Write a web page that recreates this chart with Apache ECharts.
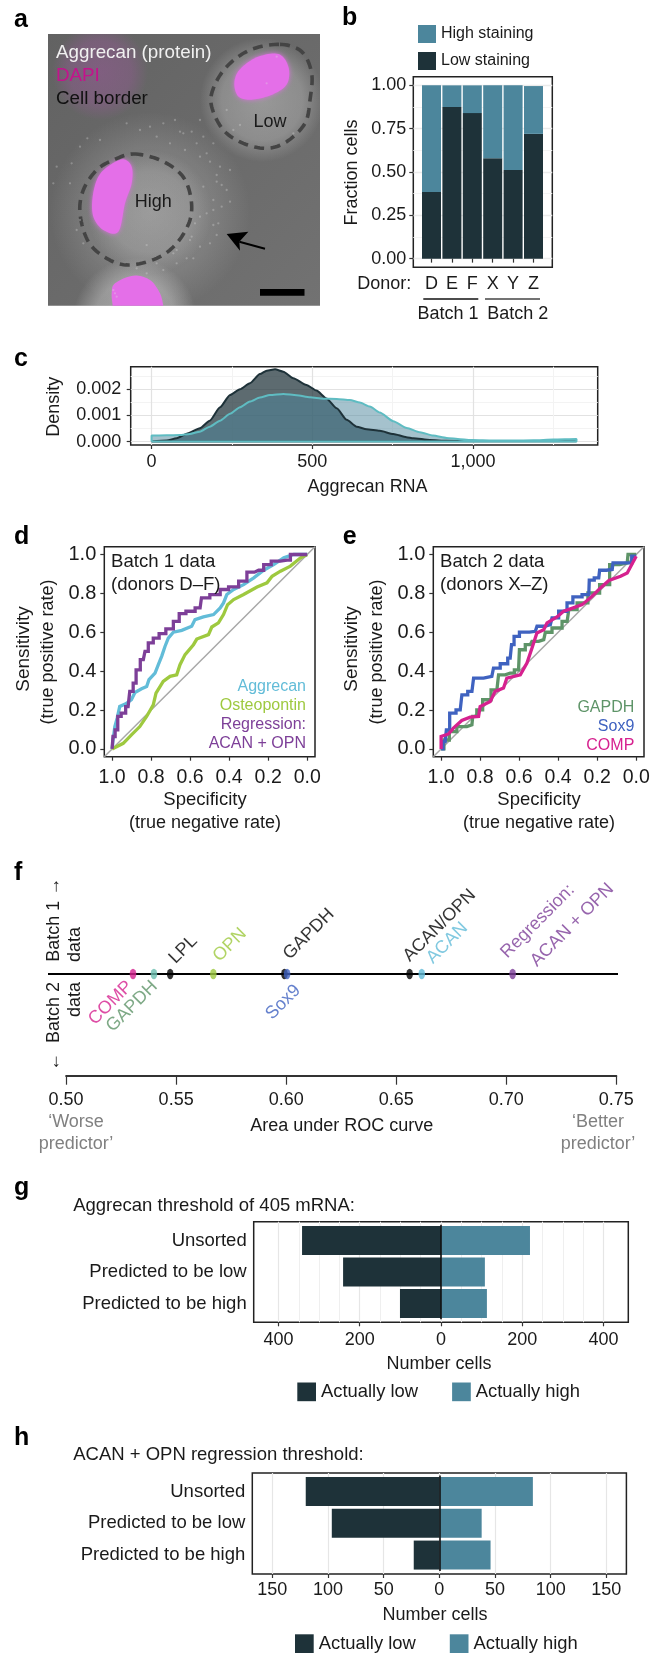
<!DOCTYPE html>
<html><head><meta charset="utf-8">
<style>html,body{margin:0;padding:0;background:#fff}#c{width:656px;height:1653px}</style>
<script src="https://cdn.jsdelivr.net/npm/echarts@6/dist/echarts.min.js"></script></head>
<body><div id="c"></div>
<script>
// ---------- data ----------
const donors=['D','E','F','X','Y','Z'];
const lowStaining=[0.385,0.875,0.84,0.58,0.512,0.72];
const highStaining=[0.615,0.125,0.16,0.42,0.488,0.276];
const darkDensity=[[0,0],[47,.04],[78,.13],[114,.32],[150,.51],[181,.80],[213,1.31],[244,1.78],[275,2.0],[306,2.23],[337,2.58],[358,2.71],[384,2.76],[410,2.67],[441,2.42],[482,2.16],[513,1.95],[544,1.65],[576,1.27],[607,.83],[638,.57],[669,.47],[710,.41],[752,.29],[793,.17],[814,.13],[866,.06],[918,.03],[1000,.02],[1125,.01],[1322,.01],[1322,0],[0,0]];
const tealDensity=[[0,0],[0,.23],[47,.24],[88,.25],[119,.29],[150,.38],[181,.57],[213,.80],[244,1.06],[275,1.31],[306,1.53],[337,1.68],[368,1.78],[410,1.82],[451,1.77],[493,1.69],[534,1.64],[576,1.63],[617,1.59],[648,1.49],[679,1.34],[710,1.11],[752,.78],[794,.52],[835,.36],[876,.23],[918,.14],[960,.09],[999,.06],[1062,.04],[1125,.04],[1188,.05],[1250,.08],[1322,.10],[1322,0],[0,0]];
const rocAggrecan=[[1,0],[.995,.046],[.986,.115],[.974,.158],[.961,.218],[.93,.232],[.901,.253],[.883,.29],[.849,.309],[.823,.321],[.811,.356],[.78,.39],[.763,.433],[.746,.476],[.729,.527],[.712,.57],[.686,.6],[.643,.61],[.592,.631],[.575,.665],[.532,.679],[.48,.691],[.446,.725],[.429,.751],[.412,.794],[.377,.82],[.326,.845],[.274,.88],[.223,.919],[.172,.948],[.12,.983],[.069,1],[0,1]];
const rocOsteopontin=[[1,0],[.943,.029],[.901,.072],[.858,.115],[.823,.167],[.789,.227],[.775,.287],[.738,.347],[.703,.373],[.669,.381],[.652,.433],[.626,.485],[.583,.536],[.566,.565],[.506,.588],[.489,.627],[.455,.648],[.429,.691],[.408,.742],[.377,.768],[.326,.794],[.257,.833],[.206,.854],[.18,.888],[.137,.914],[.086,.94],[.034,.983],[0,1]];
const rocRegression=[[1,0],[.991,.064],[.978,.098],[.964,.167],[.943,.184],[.918,.218],[.901,.296],[.883,.338],[.871,.407],[.84,.459],[.823,.502],[.806,.545],[.772,.57],[.746,.593],[.703,.617],[.669,.656],[.643,.696],[.6,.708],[.549,.725],[.535,.777],[.463,.794],[.429,.82],[.377,.833],[.326,.863],[.292,.909],[.249,.919],[.197,.948],[.172,.966],[.103,.971],[.069,1],[0,1]];
const rocSox9=[[1,0],[.979,.038],[.967,.098],[.945,.184],[.902,.201],[.885,.278],[.842,.296],[.825,.364],[.74,.373],[.723,.416],[.671,.438],[.646,.467],[.632,.536],[.62,.579],[.577,.601],[.517,.605],[.5,.631],[.44,.639],[.423,.674],[.372,.708],[.337,.751],[.312,.782],[.243,.794],[.238,.868],[.192,.88],[.183,.919],[.123,.923],[.115,.957],[.046,.957],[0,.991]];
const rocGapdh=[[1,0],[.971,.046],[.945,.089],[.894,.115],[.842,.124],[.834,.167],[.8,.201],[.774,.253],[.714,.304],[.697,.381],[.646,.39],[.603,.407],[.594,.51],[.543,.536],[.526,.553],[.474,.562],[.457,.6],[.406,.622],[.354,.656],[.337,.716],[.269,.751],[.226,.802],[.149,.845],[.123,.948],[.046,.957],[.038,1],[0,1]];
const rocComp=[[1,0],[1,.064],[.962,.077],[.937,.107],[.894,.146],[.851,.163],[.808,.167],[.8,.218],[.748,.244],[.723,.296],[.68,.313],[.663,.364],[.594,.381],[.56,.442],[.534,.519],[.509,.596],[.474,.613],[.457,.648],[.406,.679],[.372,.708],[.337,.72],[.277,.742],[.226,.785],[.183,.828],[.14,.866],[.08,.888],[.046,.905],[0,.991]];
const aucNames=['COMP','GAPDH','LPL','OPN','GAPDH','Sox9','ACAN/OPN','ACAN','Regression:\nACAN + OPN'];
const aucValues=[.5304,.5399,.5473,.5669,.5992,.6004,.6561,.6616,.7029];
const sortRows=['Unsorted','Predicted to be low','Predicted to be high'];
const gLow=[342,241,101], gHigh=[219,108,113];
const hLow=[120,96.6,23], hHigh=[84,38,46];
const speckX=[262,215,160,240,300,450,490,525,550,575,610,640,590,555,620,660,690,650,665,640,690,665,655,640,650,630,600,580,560,530,490,440,230,240,250,170,210,680,700,720,830,800,880,440,600,600,570,420,380,345,350,340,470,510,540,600,630,650,680,610,585,520,470,410,620,575,640,530];
const speckY=[385,460,520,410,390,350,340,330,370,365,380,400,400,420,430,470,480,515,525,570,575,590,640,645,675,700,710,745,745,760,780,790,660,630,700,470,520,300,360,345,140,220,370,705,330,620,690,360,340,850,860,840,380,400,365,440,455,495,540,530,640,730,760,775,610,680,600,720];

// ---------- style ----------
const F='"Liberation Sans"';
const LOW='#1e3239',HIGH='#4c869c',INK='#1a1a1a',TEAL='#5fbcc2';
const CYAN='#62bcd8',LIME='#9ec93f',PURPLE='#7d3f98',BLUE='#3f62c0',GREEN='#5e9468',PINK='#d6218f',TEALDOT='#6bbfb0';
const grids=[],xAxes=[],yAxes=[],series=[],legends=[],gfx=[];
const px=(l,r,t,b)=>({left:l,width:r-l,top:t,height:b-t,containLabel:false});
function addGrid(l,r,t,b,framed){grids.push(Object.assign(px(l,r,t,b),{show:!!framed,borderColor:'#222',borderWidth:framed?1.5:0,backgroundColor:'transparent'}));return grids.length-1;}
function hiddenAxis(g,min,max,extra){return Object.assign({type:'value',gridIndex:g,min,max,show:false,splitLine:{show:false}},extra||{});}
function valAxis(g,min,max,vals,fmt,o){o=o||{};return {type:'value',gridIndex:g,min,max,inverse:!!o.inverse,
  axisLine:{show:!!o.line,onZero:false,lineStyle:{color:o.lineColor||'#222',width:2}},
  axisTick:{show:true,customValues:vals,length:o.tick||4,lineStyle:{color:'#333',width:1.2}},
  axisLabel:{show:true,customValues:vals,formatter:fmt,margin:o.margin||6,fontFamily:F,fontSize:o.size||18,color:INK},
  splitLine:o.grid?{show:true,lineStyle:{color:o.grid,width:o.gridW||1.2}}:{show:false}};}
function gridAxis(g,min,max,vals,color,w,pos){return {type:'value',gridIndex:g,min,max,position:pos,axisLine:{show:false},axisLabel:{show:false},
  axisTick:{show:false,customValues:vals},splitLine:{show:true,lineStyle:{color:color,width:w}}};}
function T(text,x,y,o){o=o||{};gfx.push({type:'text',x,y,z:100,rotation:o.rot?o.rot*Math.PI/180:0,silent:true,
  style:{text,x:0,y:0,fontFamily:F,fontSize:o.size||18,fontWeight:o.bold?'bold':'normal',fill:o.color||INK,align:o.align||'center',verticalAlign:'middle'}});}
function panelLabel(s,x,y){T(s,x,y,{size:25,bold:true,align:'left',color:'#000'});}
function L(x1,y1,x2,y2,color,w,z){gfx.push({type:'line',z:z==null?1:z,silent:true,shape:{x1,y1,x2,y2},style:{stroke:color,lineWidth:w}});}

// ---------- panel a (micrograph drawn with shapes) ----------
const ax=z=>z/3, ay=z=>10+z/3;
const pts=a=>a.map(p=>[ax(p[0]),ay(p[1])]);
function curve(a,closed){ // rounds a hand-traced outline of the micrograph
  const n=a.length,out=[];
  const at=i=>closed?a[(i+n)%n]:a[Math.max(0,Math.min(n-1,i))];
  for(let i=0;i<(closed?n:n-1);i++){const p0=at(i-1),p1=at(i),p2=at(i+1),p3=at(i+2);
    for(let k=0;k<10;k++){const t=k/10,t2=t*t,t3=t2*t;
      out.push([0,1].map(d=>.5*(2*p1[d]+(p2[d]-p0[d])*t+(2*p0[d]-5*p1[d]+4*p2[d]-p3[d])*t2+(3*p1[d]-p0[d]-3*p2[d]+p3[d])*t3)));}}
  if(!closed)out.push(a[n-1]);
  return pts(out);}
const IMG={x:48,y:34,width:272,height:271.7};
function imgRect(fill,z){gfx.push({type:'rect',z:z,silent:true,shape:IMG,style:{fill}});}
imgRect({type:'linear',x:0,y:0,x2:1,y2:1,colorStops:[{offset:0,color:'#626262'},{offset:1,color:'#727272'}]},0);
function glow(x,y,r,color,a,z){imgRect({type:'radial',global:true,x,y,r,colorStops:[{offset:0,color:`rgba(${color},${a})`},{offset:.65,color:`rgba(${color},${a*.75})`},{offset:1,color:`rgba(${color},0)`}]},z);}
glow(100,72,48,'150,90,150',.55,0);
glow(150,212,100,'190,190,190',.28,0);
glow(150,212,62,'215,215,215',.3,0);
glow(262,100,62,'215,215,215',.42,0);
glow(135,320,62,'235,235,235',.45,0);
function nucleus(a){gfx.push({type:'polygon',z:0,silent:true,shape:{points:curve(a,true)},style:{fill:'#e46fe8',shadowBlur:5,shadowColor:'#d870dc'}});}
nucleus([[835,132],[865,170],[862,220],[825,250],[765,268],[718,262],[703,222],[718,180],[770,142]]);
nucleus([[370,448],[395,470],[395,520],[375,580],[355,665],[310,660],[280,620],[278,560],[295,500],[330,465]]);
gfx.push({type:'polygon',z:0,silent:true,shape:{points:curve([[338,887],[335,850],[345,820],[400,797],[450,810],[480,850],[490,887]],false)},style:{fill:'#e46fe8'}});
function cell(a){gfx.push({type:'polygon',z:1,silent:true,shape:{points:curve(a,true)},style:{fill:'transparent',stroke:'#444',lineWidth:3.6,lineDash:[10,6.5]}});}
cell([[840,103],[905,125],[935,190],[930,270],[915,340],[860,395],[800,415],[730,400],[670,360],[635,290],[640,235],[680,170],[750,120]]);
cell([[400,432],[480,450],[545,495],[572,560],[570,630],[530,700],[470,745],[385,765],[320,745],[265,695],[240,610],[250,540],[290,480],[340,450]]);
gfx.push({type:'rect',z:3,silent:true,shape:{x:260,y:289,width:44.5,height:6.7},style:{fill:'#000'}});
L(ax(718),ay(695),ax(795),ay(716),'#000',2,3);
gfx.push({type:'polygon',z:3,silent:true,shape:{points:pts([[680,672],[745,665],[718,695],[720,722]])},style:{fill:'#000'}});
T('Aggrecan (protein)',56,53.3,{size:18.8,align:'left',color:'#f0f0f0'});
T('DAPI',56,76,{size:18.8,align:'left',color:'#c4128c'});
T('Cell border',56,99,{size:18.8,align:'left',color:'#111'});
T('Low',270,121.7,{size:18});
T('High',153.3,202.3,{size:18});
panelLabel('a',14,20);
{const g=addGrid(48,320,34,305.7);
 xAxes.push(hiddenAxis(g,144,960));yAxes.push(hiddenAxis(g,72,887,{inverse:true}));
 series.push({type:'scatter',xAxisIndex:xAxes.length-1,yAxisIndex:yAxes.length-1,silent:true,symbolSize:2.3,z:2,
   itemStyle:{color:'rgba(225,225,225,.38)'},data:speckX.map((x,i)=>[x,speckY[i]])});}

// ---------- panel b ----------
panelLabel('b',342,18);
{const F0=addGrid(413.3,552.3,76.7,267.3,true);
 xAxes.push(hiddenAxis(F0,0,1));
 yAxes.push(valAxis(F0,-.05,1.05,[0,.25,.5,.75,1],v=>v.toFixed(2),{grid:'#ebebeb',gridW:1.3,size:18,margin:7}));
 yAxes.push(gridAxis(F0,-.05,1.05,[.125,.375,.625,.875],'#f4f4f4',1,'right'));
 const g=addGrid(421.3,543.7,76.7,267.3);
 const xi=xAxes.length;
 xAxes.push({type:'category',gridIndex:g,data:donors,axisLine:{show:false},axisTick:{show:true,alignWithLabel:true,length:4,lineStyle:{color:'#333',width:1.2}},
   axisLabel:{margin:8,fontFamily:F,fontSize:18,color:INK}});
 const yi=yAxes.length;
 yAxes.push(hiddenAxis(g,-.05,1.05));
 series.push({type:'bar',name:'Low staining',stack:'b',xAxisIndex:xi,yAxisIndex:yi,barWidth:19,itemStyle:{color:LOW},data:lowStaining});
 series.push({type:'bar',name:'High staining',stack:'b',xAxisIndex:xi,yAxisIndex:yi,barWidth:19,itemStyle:{color:HIGH},data:highStaining});
 legends.push({show:true,orient:'vertical',left:418,top:25,padding:0,itemWidth:18,itemHeight:18,itemGap:9,icon:'rect',selectedMode:false,
   data:['High staining','Low staining'],textStyle:{fontFamily:F,fontSize:16,color:INK}});
 T('Fraction cells',351.7,172.5,{rot:90});
 T('Donor:',384.3,284);
 L(423.3,299,478.3,299,'#111',1.6);L(485,299,540,299,'#444',1.6);
 T('Batch 1',448,313.7);T('Batch 2',517.7,313.7);
}

// ---------- panel c ----------
panelLabel('c',14,359);
{const g=addGrid(130.7,597.7,366.7,445,true);
 const xi=xAxes.length,yi=yAxes.length;
 xAxes.push(valAxis(g,-65,1388,[0,500,1000],v=>v===1000?'1,000':String(v),{grid:'#e2e2e2',margin:8}));
 xAxes.push(gridAxis(g,-65,1388,[250,750,1250],'#f3f3f3',1,'top'));
 yAxes.push(valAxis(g,-.13,2.86,[0,1,2],v=>(v/1000).toFixed(3),{grid:'#e2e2e2',margin:9.5}));
 yAxes.push(gridAxis(g,-.13,2.86,[.5,1.5,2.5],'#f3f3f3',1,'right'));
 const common={type:'line',xAxisIndex:xi,yAxisIndex:yi,showSymbol:false,silent:true,smooth:.2,smoothMonotone:'x'};
 series.push(Object.assign({},common,{data:darkDensity,lineStyle:{color:LOW,width:2},areaStyle:{color:LOW,opacity:.72}}));
 series.push(Object.assign({},common,{data:tealDensity,lineStyle:{color:TEAL,width:2},areaStyle:{color:HIGH,opacity:.5}}));
 T('Density',53.8,406.7,{rot:90});
 T('Aggrecan RNA',367.6,486.7);
}

// ---------- panels d, e ----------
function rocPanel(l,r,curves){
 const g=addGrid(l,r,546.7,756.7,true);
 const xi=xAxes.length,yi=yAxes.length;
 const vals=[0,.2,.4,.6,.8,1];
 xAxes.push(valAxis(g,-.04,1.04,vals,v=>v.toFixed(1),{inverse:true,size:19.5,margin:11}));
 yAxes.push(valAxis(g,-.04,1.04,vals,v=>v.toFixed(1),{size:20,margin:8}));
 series.push({type:'line',xAxisIndex:xi,yAxisIndex:yi,silent:true,showSymbol:false,data:[[1.04,-.04],[-.04,1.04]],lineStyle:{color:'#a8a8a8',width:1.5}});
 curves.forEach(c=>series.push({type:'line',xAxisIndex:xi,yAxisIndex:yi,silent:true,showSymbol:false,step:c[2]?'middle':false,data:c[0],lineStyle:{color:c[1],width:3.3,join:'miter'}}));
}
panelLabel('d',14,537);
rocPanel(104.3,315,[[rocAggrecan,CYAN,false],[rocOsteopontin,LIME,false],[rocRegression,PURPLE,true]]);
T('Sensitivity',23.3,649,{rot:90,size:19});T('(true positive rate)',47.7,652,{rot:90});
T('Specificity',205,800,{size:18.5});T('(true negative rate)',205,823,{size:18});
T('Batch 1 data',111,561.7,{align:'left',size:18.6});T('(donors D–F)',111,585,{align:'left',size:18.6});
T('Aggrecan',306,686.7,{align:'right',size:16,color:CYAN});T('Osteopontin',306,706,{align:'right',size:16,color:LIME});
T('Regression:',306,725,{align:'right',size:16,color:PURPLE});T('ACAN + OPN',306,743.3,{align:'right',size:16,color:PURPLE});
panelLabel('e',342.7,537);
rocPanel(433.3,644,[[rocGapdh,GREEN,true],[rocSox9,BLUE,true],[rocComp,PINK,false]]);
T('Sensitivity',351.7,649,{rot:90,size:19});T('(true positive rate)',376.7,652,{rot:90});
T('Specificity',539,800,{size:18.5});T('(true negative rate)',539,823,{size:18});
T('Batch 2 data',440,561.7,{align:'left',size:18.6});T('(donors X–Z)',440,585,{align:'left',size:18.6});
T('GAPDH',634.3,708,{align:'right',size:16,color:GREEN});T('Sox9',634.3,726.7,{align:'right',size:16,color:BLUE});T('COMP',634.3,746,{align:'right',size:16,color:PINK});

// ---------- panel f ----------
panelLabel('f',14,873);
{const g=addGrid(66.1,616.3,872.3,1075.7);
 const xi=xAxes.length,yi=yAxes.length;
 xAxes.push(valAxis(g,.5,.75,[.5,.55,.6,.65,.7,.75],v=>v.toFixed(2),{line:true,lineColor:'#333',tick:9,margin:15}));
 yAxes.push(hiddenAxis(g,-1,1));
 L(48,974,618,974,'#000',2,1);
 const dotColor=[PINK,TEALDOT,'#000',LIME,'#000',BLUE,'#000',CYAN,PURPLE];
 const textColor=[PINK,GREEN,'#000',LIME,'#000',BLUE,'#000',CYAN,PURPLE];
 const above=[false,false,true,true,true,false,true,true,true];
 const off=[[0,15],[4,15],[5,-8],[6,-10],[5,-12],[14,19],[0,-10],[11,-8],[4,-4]];
 series.push({type:'scatter',xAxisIndex:xi,yAxisIndex:yi,silent:true,symbolSize:[6.6,10.5],z:3,
   data:aucValues.map((v,i)=>({value:[v,0],itemStyle:{color:dotColor[i]},label:{show:true,formatter:aucNames[i].replace('\n','\n   '),position:off[i],rotate:45,
     align:above[i]?'left':'right',verticalAlign:'middle',fontFamily:F,fontSize:18,lineHeight:27,color:textColor[i]}}))});
 T('Batch 1 →',53.6,961.7,{rot:90,align:'left'});T('data',75.3,962,{rot:90,align:'left'});
 T('←  Batch 2',53.6,982,{rot:90,align:'right'});T('data',75.3,982,{rot:90,align:'right'});
 T('‘Worse',76,1121.7,{color:'#808080'});T('predictor’',76,1144,{color:'#808080'});
 T('‘Better',598,1121.7,{color:'#808080'});T('predictor’',598,1144,{color:'#808080'});
 T('Area under ROC curve',341.8,1126);
}

// ---------- panels g, h ----------
function tornado(top,bot,rowTop,rowBot,l,r,lim,ticks,minor,low,high,barH,lblMargin){
 const F0=addGrid(l,r,top,bot,true);
 xAxes.push(valAxis(F0,-lim,lim,ticks,v=>String(Math.abs(v)),{grid:'#e6e6e6',margin:lblMargin}));
 if(minor.length)xAxes.push(gridAxis(F0,-lim,lim,minor,'#efefef',1,'top'));
 yAxes.push(hiddenAxis(F0,0,1));
 const g=addGrid(l,r,rowTop,rowBot);
 const xi=xAxes.length,yi=yAxes.length;
 xAxes.push(hiddenAxis(g,-lim,lim));
 yAxes.push({type:'category',inverse:true,gridIndex:g,data:sortRows,axisLine:{show:false,onZero:false},axisTick:{show:false},
   axisLabel:{margin:7,fontFamily:F,fontSize:18.5,color:INK}});
 const st='torn'+g;
 series.push({type:'bar',name:'Actually high',stack:st,xAxisIndex:xi,yAxisIndex:yi,barWidth:barH,silent:true,z:1,itemStyle:{color:HIGH},data:high});
 series.push({type:'bar',name:'Actually low',stack:st,xAxisIndex:xi,yAxisIndex:yi,barWidth:barH,silent:true,itemStyle:{color:LOW},data:low.map(v=>-v),
   markLine:{silent:true,symbol:'none',label:{show:false},lineStyle:{color:'#111',width:1.6,type:'solid'},data:[{xAxis:0}],animation:false}});
}
const gMinor=[-350,-300,-250,-150,-100,-50,50,100,150,250,300,350];
const gTicks=[-400,-200,0,200,400];
panelLabel('g',14,1188);
tornado(1221.7,1322.3,1224.7,1319.3,253.7,628.3,461,gTicks,gMinor,gLow,gHigh,29,9);
T('Aggrecan threshold of 405 mRNA:',73.2,1206,{align:'left',size:18.5});
T('Number cells',439,1364);
function legendRow(left,top,gap){legends.push({show:true,orient:'horizontal',left,top,padding:0,itemWidth:18.7,itemHeight:18.7,itemGap:gap,icon:'rect',selectedMode:false,
  data:['Actually low','Actually high'],textStyle:{fontFamily:F,fontSize:18.4,color:INK}});}
legendRow(297.3,1382.5,34);
panelLabel('h',14,1438);
tornado(1473,1574,1475.5,1571,252.3,626.4,168,[-150,-100,-50,0,50,100,150],[],hLow,hHigh,29,7);
T('ACAN + OPN regression threshold:',73.2,1454.7,{align:'left',size:18.5});
T('Number cells',435,1615.3);
legendRow(295,1634.3,34);

const chart=echarts.init(document.getElementById('c'),null,{renderer:'canvas',width:656,height:1653});
chart.setOption({animation:false,backgroundColor:'#fff',grid:grids,xAxis:xAxes,yAxis:yAxes,series:series,legend:legends,graphic:{elements:gfx}});
</script></body></html>
